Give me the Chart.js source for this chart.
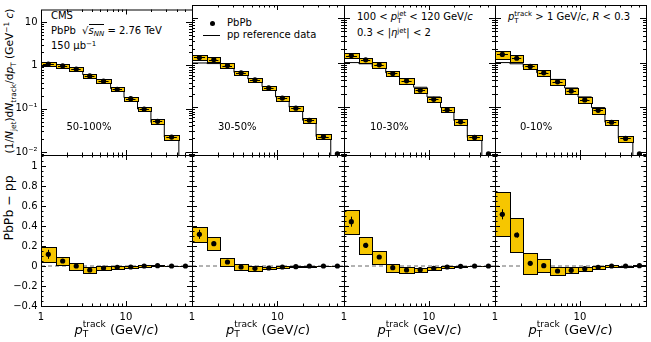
<!DOCTYPE html>
<html>
<head>
<meta charset="utf-8">
<title>Jet fragmentation PbPb vs pp</title>
<script src="https://cdn.jsdelivr.net/npm/chart.js@4.4.1/dist/chart.umd.min.js"></script>
<style>
  html, body { margin: 0; padding: 0; background: #fff; }
  #wrap { position: relative; width: 651px; height: 342px; overflow: hidden; background: #fff;
          font-family: "DejaVu Sans", sans-serif; color: #000; }
  #wrap canvas { position: absolute; left: 0; top: 0; }
  .t { position: absolute; white-space: nowrap; line-height: 1; font-size: 10px; transform: translateY(-50%); }
  .c { transform: translate(-50%, -50%); }
  .r { transform: translate(-50%, -50%) rotate(-90deg); }
  .big { font-size: 13px; }
  .ytl { font-size: 10.6px; }
  .ybl { font-size: 12.5px; }
  sub, sup { font-size: 0.7em; line-height: 0; position: relative; vertical-align: baseline; }
  sub { top: 0.35em; }
  sup { top: -0.5em; }
  .ss { display: inline-block; font-size: 0.7em; line-height: 1.05; text-align: left; vertical-align: -0.38em; }
  .dot { position: absolute; width: 5px; height: 5px; border-radius: 50%; background: #000; }
  .leg-line { position: absolute; height: 1px; background: #000; }
</style>
</head>
<body>
<div id="wrap">
  <div class="t" style="left:51px;top:15.5px">CMS</div>
  <div class="t" style="left:51px;top:31px">PbPb &nbsp;√<span style="border-top:1px solid #000"><i>s</i><sub><i>NN</i></sub></span> = 2.76 TeV</div>
  <div class="t" style="left:51px;top:46px">150 μb<sup>−1</sup></div>

  <div class="dot" style="left:210px;top:20.5px"></div>
  <div class="t" style="left:227px;top:23px">PbPb</div>
  <div class="leg-line" style="left:203px;top:35px;width:17px"></div>
  <div class="t" style="left:227px;top:35px">pp reference data</div>

  <div class="t" style="left:357px;top:18px">100 &lt; <i>p</i><span class="ss">jet<br>T</span> &lt; 120 GeV/<i>c</i></div>
  <div class="t" style="left:357px;top:33px">0.3 &lt; |<i>η</i><sup>jet</sup>| &lt; 2</div>
  <div class="t" style="left:508px;top:18px"><i>p</i><span class="ss">track<br>T</span> &gt; 1 GeV/<i>c</i>, <i>R</i> &lt; 0.3</div>

  <div class="t ytl r" style="left:9px;top:81px">(1/<i>N</i><sub>jet</sub>)d<i>N</i><sub>track</sub>/d<i>p</i><sub>T</sub> (GeV<sup>−1</sup> <i>c</i>)</div>
  <div class="t ybl r" style="left:9px;top:208px">PbPb − pp</div>
</div>

<script>
// ---- values ----
const binEdges   = [1, 1.5, 2.15, 3.1, 4.5, 6.6, 9.5, 13.7, 19.7, 28.3, 42, 60];
const binCenters = [1.22, 1.8, 2.6, 3.75, 5.45, 7.9, 11.4, 16.4, 23.6, 34.5, 50.2];
const centralityBins = ['50-100%', '30-50%', '10-30%', '0-10%'];

// top row: (1/Njet) dN/dpT, PbPb points
const pbpb50to100 = [1.07, 0.98, 0.82, 0.57, 0.43, 0.28, 0.17, 0.098, 0.051, 0.022, 0.006];
const pbpb30to50  = [1.30, 1.17, 0.86, 0.59, 0.41, 0.27, 0.16, 0.095, 0.051, 0.022, 0.009];
const pbpb10to30  = [1.44, 1.15, 0.89, 0.57, 0.39, 0.24, 0.15, 0.088, 0.047, 0.021, 0.009];
const pbpb0to10   = [1.52, 1.25, 0.82, 0.59, 0.37, 0.23, 0.146, 0.085, 0.046, 0.020, 0.009];

// top row: pp reference histogram (last bin empty, drawn off scale)
const pp50to100 = [0.95, 0.93, 0.82, 0.61, 0.45, 0.29, 0.18, 0.098, 0.048, 0.022, 0.0001];
const pp30to50  = [0.98, 0.95, 0.82, 0.60, 0.43, 0.29, 0.17, 0.10, 0.051, 0.022, 0.0001];
const pp10to30  = [1.00, 0.94, 0.80, 0.59, 0.43, 0.28, 0.17, 0.098, 0.050, 0.021, 0.0001];
const pp0to10   = [1.00, 0.94, 0.79, 0.59, 0.42, 0.27, 0.17, 0.098, 0.046, 0.020, 0.0001];

// top row: relative systematic uncertainty (yellow boxes)
const sysTop50to100 = [0.11, 0.11, 0.11, 0.11, 0.11, 0.11, 0.11, 0.11, 0.11, 0.12, 0];
const sysTop30to50  = [0.12, 0.12, 0.12, 0.12, 0.12, 0.12, 0.12, 0.12, 0.12, 0.12, 0];
const sysTop10to30  = [0.13, 0.13, 0.13, 0.13, 0.13, 0.13, 0.13, 0.13, 0.13, 0.13, 0];
const sysTop0to10   = [0.22, 0.18, 0.14, 0.14, 0.15, 0.15, 0.15, 0.15, 0.15, 0.15, 0];

// bottom row: PbPb - pp
const diff50to100 = [0.117, 0.05, 0.0, -0.04, -0.02, -0.013, -0.01, 0.0, 0.003, 0.0, 0.0];
const diff30to50  = [0.317, 0.223, 0.04, -0.01, -0.023, -0.02, -0.01, -0.007, 0.0, 0.0, 0.0];
const diff10to30  = [0.443, 0.207, 0.09, -0.017, -0.04, -0.037, -0.023, -0.01, -0.003, 0.0, 0.0];
const diff0to10   = [0.517, 0.31, 0.027, 0.003, -0.05, -0.043, -0.027, -0.013, 0.0, 0.0, 0.003];

// bottom row: systematic half-heights
const diffSys50to100 = [0.075, 0.04, 0.035, 0.027, 0.02, 0.012, 0.008, 0.006, 0.005, 0.004, 0.003];
const diffSys30to50  = [0.075, 0.063, 0.04, 0.027, 0.023, 0.012, 0.008, 0.006, 0.005, 0.004, 0.003];
const diffSys10to30  = [0.118, 0.087, 0.065, 0.042, 0.028, 0.02, 0.015, 0.01, 0.006, 0.004, 0.003];
const diffSys0to10   = [0.22, 0.17, 0.105, 0.067, 0.043, 0.03, 0.02, 0.012, 0.008, 0.005, 0.004];

// bottom row: statistical errors
const diffStat50to100 = [0.045, 0.02, 0.01, 0.01, 0.005, 0.004, 0.003, 0.002, 0.002, 0.002, 0.002];
const diffStat30to50  = [0.045, 0.02, 0.01, 0.01, 0.005, 0.004, 0.003, 0.002, 0.002, 0.002, 0.002];
const diffStat10to30  = [0.05, 0.025, 0.015, 0.01, 0.006, 0.004, 0.003, 0.002, 0.002, 0.002, 0.002];
const diffStat0to10   = [0.05, 0.025, 0.015, 0.01, 0.006, 0.004, 0.003, 0.002, 0.002, 0.002, 0.002];

// axes
const xRange = [1, 60];
const topRange = [0.0085, 19.5];
const diffRange = [-0.4, 1.11];
const xTickValues = [1, 10];
const xTickLabels = ['1', '10'];
const topTickValues = [0.01, 0.1, 1, 10];
const topTickLabels = ['10\u207B\u00B2', '10\u207B\u00B9', '1', '10'];
const diffTickValues = [-0.4, -0.2, 0, 0.2, 0.4, 0.6, 0.8, 1];
const diffTickLabels = ['\u22120.4', '\u22120.2', '0', '0.2', '0.4', '0.6', '0.8', '1'];

// ---- layout ----
const W = 651, H = 342;
const colEdges = [41, 192, 344, 495, 646];
const rowEdges = [5, 155, 306];
const BOX_FILL = '#f6c600';
const FONT = { family: 'DejaVu Sans', size: 10 };

const panels = [
  { label: centralityBins[0], pbpb: pbpb50to100, pp: pp50to100, sys: sysTop50to100, diff: diff50to100, diffSys: diffSys50to100, stat: diffStat50to100 },
  { label: centralityBins[1], pbpb: pbpb30to50,  pp: pp30to50,  sys: sysTop30to50,  diff: diff30to50,  diffSys: diffSys30to50,  stat: diffStat30to50 },
  { label: centralityBins[2], pbpb: pbpb10to30,  pp: pp10to30,  sys: sysTop10to30,  diff: diff10to30,  diffSys: diffSys10to30,  stat: diffStat10to30 },
  { label: centralityBins[3], pbpb: pbpb0to10,   pp: pp0to10,   sys: sysTop0to10,   diff: diff0to10,   diffSys: diffSys0to10,   stat: diffStat0to10 },
];

// minor tick positions for the inside tick marks
function logMinors(lo, hi) {
  const out = [];
  for (let d = Math.floor(Math.log10(lo)); d <= Math.ceil(Math.log10(hi)); d++) {
    for (let k = 2; k <= 9; k++) {
      const v = k * Math.pow(10, d);
      if (v > lo && v < hi) out.push(v);
    }
  }
  return out;
}
function linMinors(lo, hi, step) {
  const out = [];
  for (let v = Math.ceil(lo / step) * step; v < hi; v += step) out.push(+v.toFixed(4));
  return out;
}

function drawInsideTicks(ctx, chart, row) {
  const a = chart.chartArea, x = chart.scales.x, y = chart.scales.y;
  const tick = (scale, vals, len, horiz) => {
    vals.forEach(v => {
      if (v <= scale.min || v >= scale.max) return;
      const p = Math.round(scale.getPixelForValue(v)) + 0.5;
      if (horiz) {
        ctx.moveTo(p, a.bottom); ctx.lineTo(p, a.bottom - len);
        ctx.moveTo(p, a.top);    ctx.lineTo(p, a.top + len);
      } else {
        ctx.moveTo(a.left, p);  ctx.lineTo(a.left + len, p);
        ctx.moveTo(a.right, p); ctx.lineTo(a.right - len, p);
      }
    });
  };
  ctx.beginPath();
  tick(x, xTickValues, 5, true);
  tick(x, logMinors(xRange[0], xRange[1]), 2.5, true);
  if (row === 0) {
    tick(y, topTickValues, 6, false);
    tick(y, logMinors(topRange[0], topRange[1]), 3, false);
  } else {
    tick(y, diffTickValues, 5, false);
    tick(y, linMinors(diffRange[0], diffRange[1], 0.05), 2.5, false);
  }
  ctx.stroke();
}

function panelPlugin(row, p) {
  return {
    id: 'panelDecor',
    beforeDatasetDraw(chart, args) {
      if (args.index !== 0) return; // boxes go right under the points
      const { ctx, chartArea: a, scales: { x, y } } = chart;
      ctx.save();
      ctx.beginPath();
      ctx.rect(a.left, a.top, a.right - a.left, a.bottom - a.top);
      ctx.clip();
      ctx.lineWidth = 1;
      ctx.strokeStyle = '#000';
      ctx.fillStyle = BOX_FILL;
      for (let i = 0; i < binCenters.length; i++) {
        let lo, hi;
        if (row === 0) {
          if (!p.sys[i]) continue;
          lo = p.pbpb[i] * (1 - p.sys[i]);
          hi = p.pbpb[i] * (1 + p.sys[i]);
        } else {
          lo = p.diff[i] - p.diffSys[i];
          hi = p.diff[i] + p.diffSys[i];
        }
        const x0 = Math.round(x.getPixelForValue(binEdges[i]));
        const x1 = Math.round(x.getPixelForValue(binEdges[i + 1]));
        const y0 = Math.round(y.getPixelForValue(hi));
        const y1 = Math.round(y.getPixelForValue(lo));
        ctx.fillRect(x0, y0, x1 - x0, Math.max(1, y1 - y0));
        ctx.strokeRect(x0 + 0.5, y0 + 0.5, x1 - x0, Math.max(0, y1 - y0));
      }
      // error bars: bin width in top row, stat error in bottom row
      ctx.beginPath();
      for (let i = 0; i < binCenters.length; i++) {
        if (row === 0) {
          if (!p.sys[i]) continue;
          const yy = Math.round(y.getPixelForValue(p.pbpb[i])) + 0.5;
          ctx.moveTo(x.getPixelForValue(binEdges[i]) + 2, yy);
          ctx.lineTo(x.getPixelForValue(binEdges[i + 1]) - 2, yy);
        } else {
          const xx = Math.round(x.getPixelForValue(binCenters[i])) + 0.5;
          ctx.moveTo(xx, y.getPixelForValue(p.diff[i] + p.stat[i]));
          ctx.lineTo(xx, y.getPixelForValue(p.diff[i] - p.stat[i]));
        }
      }
      ctx.stroke();
      ctx.restore();
    },
    afterDraw(chart) {
      const { ctx, chartArea: a } = chart;
      ctx.save();
      ctx.strokeStyle = '#000';
      ctx.lineWidth = 1;
      drawInsideTicks(ctx, chart, row);
      ctx.strokeRect(a.left + 0.5, a.top + 0.5, a.right - a.left, a.bottom - a.top);
      ctx.restore();
    }
  };
}

function makePanel(row, col) {
  const p = panels[col];
  const wrap = document.getElementById('wrap');
  const canvas = document.createElement('canvas');
  canvas.width = W; canvas.height = H;
  canvas.style.width = W + 'px'; canvas.style.height = H + 'px';
  wrap.appendChild(canvas);

  const points = (row === 0 ? p.pbpb : p.diff).map((v, i) => ({ x: binCenters[i], y: v }));
  const datasets = [{
    type: 'scatter',
    data: points,
    pointRadius: 2.6,
    pointBackgroundColor: '#000',
    pointBorderWidth: 0,
  }];
  if (row === 0) {
    datasets.push({
      type: 'line',
      data: p.pp.map((v, i) => ({ x: binEdges[i], y: v })),
      stepped: true,
      borderColor: '#000',
      borderWidth: 1,
      pointRadius: 0,
      fill: false,
    });
  } else {
    datasets.push({
      type: 'line',
      data: [{ x: xRange[0], y: 0 }, { x: xRange[1], y: 0 }],
      borderColor: '#666',
      borderWidth: 1,
      borderDash: [4, 3],
      pointRadius: 0,
      fill: false,
    });
  }

  new Chart(canvas, {
    type: 'scatter',
    data: { datasets },
    options: {
      responsive: false,
      animation: false,
      events: [],
      layout: { padding: { top: rowEdges[row], right: W - colEdges[col + 1], left: 0, bottom: 0 } },
      plugins: { legend: { display: false }, tooltip: { enabled: false } },
      scales: {
        x: {
          type: 'logarithmic',
          position: 'bottom',
          min: xRange[0], max: xRange[1],
          grid: { display: false, drawTicks: false },
          border: { display: false },
          ticks: {
            display: row === 1,
            autoSkip: false, maxRotation: 0, padding: 5,
            color: '#000', font: FONT,
            callback: (v, i) => xTickLabels[i],
          },
          afterBuildTicks: s => { s.ticks = xTickValues.map(v => ({ value: v })); },
          afterFit: s => { s.height = H - rowEdges[row + 1]; },
        },
        y: {
          type: row === 0 ? 'logarithmic' : 'linear',
          position: 'left',
          min: row === 0 ? topRange[0] : diffRange[0],
          max: row === 0 ? topRange[1] : diffRange[1],
          grid: { display: false, drawTicks: false },
          border: { display: false },
          ticks: {
            display: col === 0,
            autoSkip: false, padding: 3.5,
            color: '#000', font: FONT,
            callback: (v, i) => (row === 0 ? topTickLabels : diffTickLabels)[i],
          },
          afterBuildTicks: s => {
            s.ticks = (row === 0 ? topTickValues : diffTickValues).map(v => ({ value: v }));
          },
          afterFit: s => { s.width = colEdges[col]; },
        },
      },
    },
    plugins: [panelPlugin(row, p)],
  });
}

for (let row = 0; row < 2; row++) {
  for (let col = 0; col < 4; col++) makePanel(row, col);
}

// per-panel text: centrality label and x-axis titles
(function addPanelText() {
  const wrap = document.getElementById('wrap');
  const centX = [66.5, 218, 370, 520];
  panels.forEach((p, col) => {
    const d = document.createElement('div');
    d.className = 't';
    d.style.left = centX[col] + 'px';
    d.style.top = '127px';
    d.textContent = p.label;
    wrap.appendChild(d);

    const t = document.createElement('div');
    t.className = 't big c';
    t.style.left = ((colEdges[col] + colEdges[col + 1]) / 2) + 'px';
    t.style.top = '330px';
    t.innerHTML = '<i>p</i><span class="ss">track<br>T</span> (GeV/<i>c</i>)';
    wrap.appendChild(t);
  });
})();
</script>
</body>
</html>
